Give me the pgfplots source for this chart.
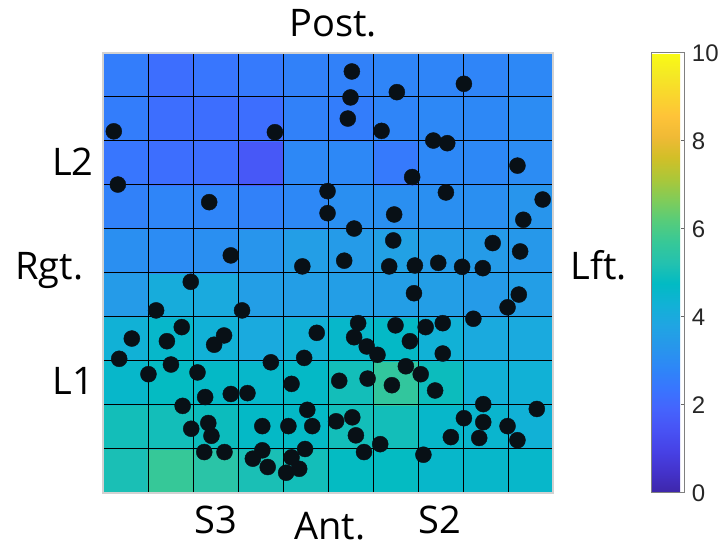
\documentclass[border=0pt]{standalone}
\usepackage{pgfplots}
\pgfplotsset{compat=1.18}
\usepackage{fontspec}
\setmainfont{Open Sans}
\newfontfamily\arialf{Liberation Sans}
\definecolor{dotc}{RGB}{8,16,22}
\pgfplotsset{colormap={parula}{
rgb=(0.2422,0.1504,0.6603) rgb=(0.2647,0.1978,0.7952) rgb=(0.2783,0.2559,0.8991)
rgb=(0.2810,0.3228,0.9579) rgb=(0.2699,0.3892,0.9906) rgb=(0.2206,0.4603,0.9973)
rgb=(0.1786,0.5289,0.9682) rgb=(0.1540,0.5902,0.9218) rgb=(0.1248,0.6459,0.8883)
rgb=(0.0689,0.6948,0.8394) rgb=(0.0067,0.7312,0.7660) rgb=(0.1408,0.7584,0.6842)
rgb=(0.2161,0.7843,0.5923) rgb=(0.3406,0.8008,0.4789) rgb=(0.5044,0.7993,0.3480)
rgb=(0.6720,0.7793,0.2227) rgb=(0.8203,0.7498,0.1535) rgb=(0.9393,0.7288,0.2100)
rgb=(0.9970,0.7659,0.2199) rgb=(0.9786,0.8386,0.1766) rgb=(0.9597,0.9135,0.1423)
rgb=(0.9769,0.9839,0.0805)}}
\begin{document}
\begin{tikzpicture}
\begin{axis}[
  set layers,
  at={(51.5bp,26.5bp)}, anchor=south west,
  scale only axis, width=225bp, height=220bp,
  xmin=0, xmax=10, ymin=0, ymax=10,
  xtick={0,1,...,10}, ytick={0,1,...,10},
  xticklabels={}, yticklabels={},
  major tick length=0pt,
  grid=major,
  major grid style={draw=black, line width=0.5bp},
  axis line style={draw=gray!35, line width=0.6bp},
  colormap name=parula,
  point meta min=0, point meta max=10,
  colorbar,
  colorbar style={
    at={(parent axis.south east)}, anchor=south west, xshift=40.85bp,
    scale only axis, width=16.6bp, height=220bp,
    ytick={0,2,...,10},
    ytick pos=right,
    ytick align=inside,
    major tick length=2bp,
    tick style={draw=black!60, line width=0.5bp},
    axis line style={draw=black!50, line width=0.5bp},
    /pgf/number format/assume math mode=true,
    yticklabel style={font=\arialf\fontsize{12bp}{14bp}\selectfont, text=black!85},
  },
]
\addplot[matrix plot*, on layer=axis background, mesh/cols=10, point meta=explicit] table[meta=c] {
x y c
0.5 0.5 5.1
1.5 0.5 5.7
2.5 0.5 5.4
3.5 0.5 5.1
4.5 0.5 5.0
5.5 0.5 4.8
6.5 0.5 4.8
7.5 0.5 4.6
8.5 0.5 4.6
9.5 0.5 4.6
0.5 1.5 5.0
1.5 1.5 5.0
2.5 1.5 4.9
3.5 1.5 4.7
4.5 1.5 4.7
5.5 1.5 5.0
6.5 1.5 5.0
7.5 1.5 4.6
8.5 1.5 4.5
9.5 1.5 4.3
0.5 2.5 4.6
1.5 2.5 4.8
2.5 2.5 4.7
3.5 2.5 4.6
4.5 2.5 4.7
5.5 2.5 5.0
6.5 2.5 5.6
7.5 2.5 4.9
8.5 2.5 4.3
9.5 2.5 4.3
0.5 3.5 4.3
1.5 3.5 4.6
2.5 3.5 4.3
3.5 3.5 4.0
4.5 3.5 4.3
5.5 3.5 4.6
6.5 3.5 4.7
7.5 3.5 4.3
8.5 3.5 4.0
9.5 3.5 4.0
0.5 4.5 3.5
1.5 4.5 4.1
2.5 4.5 4.0
3.5 4.5 3.6
4.5 4.5 3.6
5.5 4.5 3.6
6.5 4.5 3.6
7.5 4.5 3.6
8.5 4.5 3.5
9.5 4.5 3.6
0.5 5.5 3.1
1.5 5.5 3.0
2.5 5.5 3.1
3.5 5.5 3.3
4.5 5.5 3.6
5.5 5.5 3.5
6.5 5.5 3.7
7.5 5.5 3.5
8.5 5.5 3.5
9.5 5.5 3.4
0.5 6.5 2.7
1.5 6.5 2.8
2.5 6.5 2.8
3.5 6.5 2.7
4.5 6.5 2.9
5.5 6.5 3.1
6.5 6.5 3.1
7.5 6.5 3.1
8.5 6.5 3.1
9.5 6.5 3.3
0.5 7.5 2.4
1.5 7.5 2.2
2.5 7.5 2.2
3.5 7.5 1.6
4.5 7.5 2.9
5.5 7.5 2.9
6.5 7.5 2.5
7.5 7.5 2.9
8.5 7.5 2.9
9.5 7.5 3.0
0.5 8.5 2.6
1.5 8.5 2.2
2.5 8.5 2.2
3.5 8.5 2.2
4.5 8.5 2.7
5.5 8.5 2.6
6.5 8.5 2.8
7.5 8.5 2.9
8.5 8.5 2.9
9.5 8.5 3.0
0.5 9.5 2.6
1.5 9.5 2.2
2.5 9.5 2.4
3.5 9.5 2.5
4.5 9.5 2.7
5.5 9.5 2.7
6.5 9.5 2.8
7.5 9.5 2.8
8.5 9.5 2.8
9.5 9.5 2.9
};
\addplot[only marks, mark=*, mark size=4bp, mark options={draw=dotc, fill=dotc, line width=0.2bp}] table {
x y
0.24 8.22
3.82 8.20
0.33 7.01
2.36 6.61
2.84 5.40
4.43 5.15
5.53 9.58
5.50 8.99
6.53 9.11
8.02 9.30
5.44 8.51
6.19 8.23
7.34 8.01
7.65 7.95
9.21 7.44
6.87 7.18
4.99 6.86
4.99 6.36
7.62 6.83
9.77 6.67
6.47 6.33
9.34 6.21
5.58 6.01
6.45 5.74
8.66 5.68
9.27 5.49
5.36 5.28
6.36 5.15
6.93 5.17
7.45 5.23
7.98 5.14
8.44 5.11
1.95 4.80
1.18 4.15
3.09 4.15
1.75 3.77
0.64 3.51
1.42 3.45
2.69 3.58
2.47 3.37
4.75 3.64
0.36 3.05
1.51 2.92
1.01 2.70
2.10 2.74
3.73 2.97
4.47 3.07
4.19 2.48
2.27 2.18
2.84 2.25
3.21 2.27
1.77 1.98
4.54 1.89
2.34 1.59
1.96 1.46
2.41 1.30
3.54 1.52
4.12 1.52
4.65 1.52
2.25 0.93
2.70 0.93
3.54 0.97
4.49 1.00
3.33 0.78
4.19 0.81
3.66 0.59
4.36 0.55
4.07 0.46
6.91 4.54
9.24 4.51
8.99 4.22
5.67 3.86
6.50 3.81
7.17 3.77
7.55 3.86
8.23 3.96
5.58 3.54
5.86 3.33
6.10 3.14
6.82 3.45
7.55 3.17
6.73 2.88
7.06 2.70
5.25 2.55
5.88 2.60
6.42 2.45
7.38 2.33
8.45 2.02
9.64 1.91
5.18 1.63
5.54 1.72
8.02 1.70
8.45 1.61
8.99 1.52
5.62 1.31
7.73 1.27
8.36 1.25
9.21 1.20
6.16 1.11
5.80 0.93
7.12 0.87
};
\end{axis}
\begin{scope}[every node/.style={inner sep=0pt, font=\fontsize{19bp}{22bp}\selectfont}]
\node[anchor=base] at (166.5bp,254.6bp) {Post.};
\node[anchor=base] at (165bp,3.5bp) {Ant.};
\node[anchor=base] at (107.75bp,6.5bp) {S3};
\node[anchor=base] at (220bp,6.5bp) {S2};
\node[anchor=base west] at (7.5bp,133bp) {Rgt.};
\node[anchor=base west] at (25.85bp,185bp) {L2};
\node[anchor=base west] at (26bp,75.5bp) {L1};
\node[anchor=base west] at (285bp,133bp) {Lft.};
\end{scope}
\pgfresetboundingbox
\path[use as bounding box] (0,0) rectangle (363bp,273bp);
\end{tikzpicture}
\end{document}
